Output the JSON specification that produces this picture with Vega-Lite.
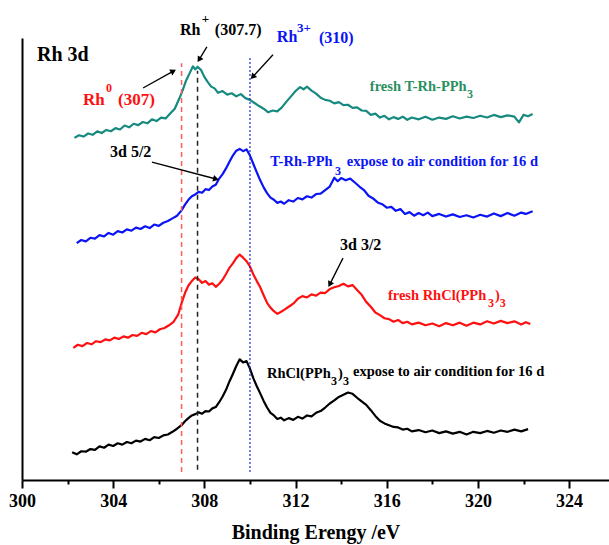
{
  "$schema": "https://vega.github.io/schema/vega-lite/v6.json",
  "width": 587,
  "height": 442,
  "autosize": "none",
  "padding": {"left": 22, "top": 38, "right": 0, "bottom": 65},
  "config": {"view": {"stroke": null}, "font": "Liberation Serif"},
  "datasets": {
    "spectra": [
      {"s":"t","x":302.3,"y":77.4},{"s":"t","x":302.5,"y":78.0},{"s":"t","x":302.7,"y":77.7},{"s":"t","x":302.9,"y":78.4},{"s":"t","x":303.1,"y":78.1},{"s":"t","x":303.3,"y":78.9},{"s":"t","x":303.5,"y":78.5},{"s":"t","x":303.7,"y":79.2},{"s":"t","x":303.9,"y":78.9},{"s":"t","x":304.1,"y":79.6},{"s":"t","x":304.3,"y":79.3},{"s":"t","x":304.5,"y":80.2},{"s":"t","x":304.7,"y":79.8},{"s":"t","x":304.9,"y":80.6},{"s":"t","x":305.1,"y":80.3},{"s":"t","x":305.3,"y":81.0},{"s":"t","x":305.5,"y":80.7},{"s":"t","x":305.7,"y":81.6},{"s":"t","x":305.9,"y":81.2},{"s":"t","x":306.1,"y":82.0},{"s":"t","x":306.3,"y":81.8},{"s":"t","x":306.5,"y":82.9},{"s":"t","x":306.7,"y":84.0},{"s":"t","x":306.9,"y":86.3},{"s":"t","x":307.05,"y":88.2},{"s":"t","x":307.2,"y":90.4},{"s":"t","x":307.35,"y":92.0},{"s":"t","x":307.5,"y":93.6},{"s":"t","x":307.6,"y":92.9},{"s":"t","x":307.7,"y":93.5},{"s":"t","x":307.85,"y":92.8},{"s":"t","x":308.0,"y":91.2},{"s":"t","x":308.15,"y":90.0},{"s":"t","x":308.3,"y":89.0},{"s":"t","x":308.45,"y":88.6},{"s":"t","x":308.6,"y":87.6},{"s":"t","x":308.8,"y":88.0},{"s":"t","x":309.0,"y":87.2},{"s":"t","x":309.2,"y":87.5},{"s":"t","x":309.4,"y":86.8},{"s":"t","x":309.6,"y":87.3},{"s":"t","x":309.8,"y":86.4},{"s":"t","x":310.0,"y":86.0},{"s":"t","x":310.2,"y":85.3},{"s":"t","x":310.4,"y":84.6},{"s":"t","x":310.6,"y":84.0},{"s":"t","x":310.8,"y":83.2},{"s":"t","x":311.0,"y":83.6},{"s":"t","x":311.2,"y":83.4},{"s":"t","x":311.4,"y":84.3},{"s":"t","x":311.6,"y":85.6},{"s":"t","x":311.8,"y":86.8},{"s":"t","x":312.0,"y":88.0},{"s":"t","x":312.2,"y":88.9},{"s":"t","x":312.35,"y":88.4},{"s":"t","x":312.5,"y":89.0},{"s":"t","x":312.7,"y":88.1},{"s":"t","x":312.9,"y":87.4},{"s":"t","x":313.1,"y":86.5},{"s":"t","x":313.3,"y":86.0},{"s":"t","x":313.5,"y":85.8},{"s":"t","x":313.7,"y":85.2},{"s":"t","x":313.9,"y":85.5},{"s":"t","x":314.1,"y":84.8},{"s":"t","x":314.3,"y":84.9},{"s":"t","x":314.5,"y":84.2},{"s":"t","x":314.7,"y":84.3},{"s":"t","x":314.9,"y":83.6},{"s":"t","x":315.1,"y":83.5},{"s":"t","x":315.3,"y":82.6},{"s":"t","x":315.5,"y":82.9},{"s":"t","x":315.7,"y":82.0},{"s":"t","x":315.9,"y":82.4},{"s":"t","x":316.1,"y":81.6},{"s":"t","x":316.3,"y":82.1},{"s":"t","x":316.5,"y":81.7},{"s":"t","x":316.7,"y":82.2},{"s":"t","x":316.9,"y":81.5},{"s":"t","x":317.1,"y":82.0},{"s":"t","x":317.4,"y":81.6},{"s":"t","x":317.7,"y":82.2},{"s":"t","x":318.0,"y":81.5},{"s":"t","x":318.3,"y":82.0},{"s":"t","x":318.6,"y":81.7},{"s":"t","x":318.9,"y":82.3},{"s":"t","x":319.2,"y":81.8},{"s":"t","x":319.5,"y":82.2},{"s":"t","x":319.8,"y":81.9},{"s":"t","x":320.1,"y":82.4},{"s":"t","x":320.4,"y":82.0},{"s":"t","x":320.7,"y":82.6},{"s":"t","x":321.0,"y":82.1},{"s":"t","x":321.3,"y":82.5},{"s":"t","x":321.6,"y":82.2},{"s":"t","x":321.8,"y":80.9},{"s":"t","x":322.0,"y":82.6},{"s":"t","x":322.2,"y":82.3},{"s":"t","x":322.4,"y":82.8},

      {"s":"b","x":302.4,"y":53.6},{"s":"b","x":302.6,"y":54.3},{"s":"b","x":302.8,"y":54.0},{"s":"b","x":303.0,"y":54.8},{"s":"b","x":303.2,"y":54.6},{"s":"b","x":303.4,"y":55.4},{"s":"b","x":303.6,"y":55.1},{"s":"b","x":303.8,"y":55.9},{"s":"b","x":304.0,"y":55.5},{"s":"b","x":304.2,"y":56.3},{"s":"b","x":304.4,"y":56.0},{"s":"b","x":304.6,"y":56.7},{"s":"b","x":304.8,"y":56.4},{"s":"b","x":305.0,"y":57.1},{"s":"b","x":305.2,"y":56.8},{"s":"b","x":305.4,"y":57.4},{"s":"b","x":305.6,"y":57.0},{"s":"b","x":305.8,"y":57.8},{"s":"b","x":306.0,"y":57.5},{"s":"b","x":306.2,"y":58.2},{"s":"b","x":306.4,"y":58.6},{"s":"b","x":306.6,"y":59.2},{"s":"b","x":306.8,"y":59.8},{"s":"b","x":307.0,"y":61.0},{"s":"b","x":307.15,"y":62.3},{"s":"b","x":307.3,"y":63.4},{"s":"b","x":307.45,"y":64.2},{"s":"b","x":307.6,"y":64.6},{"s":"b","x":307.75,"y":65.2},{"s":"b","x":307.9,"y":65.0},{"s":"b","x":308.05,"y":65.8},{"s":"b","x":308.2,"y":65.6},{"s":"b","x":308.35,"y":66.4},{"s":"b","x":308.5,"y":66.8},{"s":"b","x":308.65,"y":68.2},{"s":"b","x":308.8,"y":69.2},{"s":"b","x":308.95,"y":70.5},{"s":"b","x":309.1,"y":72.0},{"s":"b","x":309.25,"y":73.4},{"s":"b","x":309.4,"y":74.5},{"s":"b","x":309.55,"y":74.9},{"s":"b","x":309.7,"y":74.4},{"s":"b","x":309.85,"y":74.8},{"s":"b","x":310.0,"y":73.4},{"s":"b","x":310.15,"y":71.5},{"s":"b","x":310.3,"y":69.6},{"s":"b","x":310.45,"y":67.8},{"s":"b","x":310.6,"y":66.2},{"s":"b","x":310.75,"y":64.9},{"s":"b","x":310.9,"y":63.9},{"s":"b","x":311.05,"y":63.4},{"s":"b","x":311.2,"y":62.7},{"s":"b","x":311.35,"y":63.0},{"s":"b","x":311.5,"y":62.5},{"s":"b","x":311.7,"y":63.3},{"s":"b","x":311.9,"y":63.0},{"s":"b","x":312.1,"y":63.8},{"s":"b","x":312.3,"y":63.5},{"s":"b","x":312.5,"y":64.2},{"s":"b","x":312.7,"y":63.9},{"s":"b","x":312.9,"y":64.7},{"s":"b","x":313.1,"y":64.8},{"s":"b","x":313.3,"y":65.6},{"s":"b","x":313.5,"y":66.4},{"s":"b","x":313.7,"y":68.4},{"s":"b","x":313.85,"y":67.6},{"s":"b","x":314.0,"y":68.3},{"s":"b","x":314.2,"y":67.8},{"s":"b","x":314.4,"y":68.2},{"s":"b","x":314.6,"y":67.3},{"s":"b","x":314.8,"y":66.4},{"s":"b","x":315.0,"y":65.6},{"s":"b","x":315.2,"y":64.3},{"s":"b","x":315.4,"y":63.7},{"s":"b","x":315.6,"y":62.8},{"s":"b","x":315.8,"y":62.4},{"s":"b","x":316.0,"y":61.6},{"s":"b","x":316.2,"y":61.8},{"s":"b","x":316.4,"y":60.9},{"s":"b","x":316.6,"y":61.3},{"s":"b","x":316.8,"y":60.2},{"s":"b","x":317.0,"y":60.6},{"s":"b","x":317.2,"y":59.8},{"s":"b","x":317.4,"y":60.4},{"s":"b","x":317.6,"y":59.9},{"s":"b","x":317.8,"y":60.5},{"s":"b","x":318.0,"y":59.7},{"s":"b","x":318.3,"y":60.2},{"s":"b","x":318.6,"y":59.6},{"s":"b","x":318.9,"y":60.1},{"s":"b","x":319.2,"y":59.5},{"s":"b","x":319.5,"y":59.9},{"s":"b","x":319.8,"y":59.4},{"s":"b","x":320.1,"y":60.0},{"s":"b","x":320.4,"y":59.6},{"s":"b","x":320.7,"y":60.3},{"s":"b","x":321.0,"y":59.7},{"s":"b","x":321.3,"y":60.4},{"s":"b","x":321.6,"y":59.8},{"s":"b","x":321.9,"y":60.5},{"s":"b","x":322.1,"y":60.2},{"s":"b","x":322.4,"y":60.8},

      {"s":"r","x":302.25,"y":29.9},{"s":"r","x":302.45,"y":30.6},{"s":"r","x":302.65,"y":30.3},{"s":"r","x":302.85,"y":31.0},{"s":"r","x":303.05,"y":30.7},{"s":"r","x":303.25,"y":31.4},{"s":"r","x":303.45,"y":31.2},{"s":"r","x":303.65,"y":31.8},{"s":"r","x":303.85,"y":31.6},{"s":"r","x":304.05,"y":32.2},{"s":"r","x":304.25,"y":31.9},{"s":"r","x":304.45,"y":32.5},{"s":"r","x":304.65,"y":32.2},{"s":"r","x":304.85,"y":32.8},{"s":"r","x":305.05,"y":32.6},{"s":"r","x":305.25,"y":33.3},{"s":"r","x":305.45,"y":33.0},{"s":"r","x":305.65,"y":33.7},{"s":"r","x":305.85,"y":33.4},{"s":"r","x":306.05,"y":34.1},{"s":"r","x":306.25,"y":34.4},{"s":"r","x":306.45,"y":35.0},{"s":"r","x":306.65,"y":35.8},{"s":"r","x":306.85,"y":37.4},{"s":"r","x":307.0,"y":40.0},{"s":"r","x":307.15,"y":42.3},{"s":"r","x":307.3,"y":44.0},{"s":"r","x":307.45,"y":45.0},{"s":"r","x":307.6,"y":45.8},{"s":"r","x":307.75,"y":45.4},{"s":"r","x":307.9,"y":44.6},{"s":"r","x":308.05,"y":45.0},{"s":"r","x":308.2,"y":44.2},{"s":"r","x":308.35,"y":44.5},{"s":"r","x":308.5,"y":43.7},{"s":"r","x":308.65,"y":44.4},{"s":"r","x":308.8,"y":45.3},{"s":"r","x":308.95,"y":46.6},{"s":"r","x":309.1,"y":48.0},{"s":"r","x":309.25,"y":49.0},{"s":"r","x":309.4,"y":50.2},{"s":"r","x":309.55,"y":51.0},{"s":"r","x":309.7,"y":50.3},{"s":"r","x":309.85,"y":49.5},{"s":"r","x":310.0,"y":48.3},{"s":"r","x":310.15,"y":46.5},{"s":"r","x":310.3,"y":45.0},{"s":"r","x":310.45,"y":43.6},{"s":"r","x":310.6,"y":41.8},{"s":"r","x":310.75,"y":40.1},{"s":"r","x":310.9,"y":39.0},{"s":"r","x":311.05,"y":38.2},{"s":"r","x":311.2,"y":37.6},{"s":"r","x":311.35,"y":38.0},{"s":"r","x":311.5,"y":38.5},{"s":"r","x":311.7,"y":39.2},{"s":"r","x":311.9,"y":39.9},{"s":"r","x":312.1,"y":41.0},{"s":"r","x":312.3,"y":41.6},{"s":"r","x":312.5,"y":41.3},{"s":"r","x":312.7,"y":42.0},{"s":"r","x":312.9,"y":41.7},{"s":"r","x":313.1,"y":42.4},{"s":"r","x":313.3,"y":42.3},{"s":"r","x":313.5,"y":43.2},{"s":"r","x":313.7,"y":43.6},{"s":"r","x":313.9,"y":43.9},{"s":"r","x":314.1,"y":44.4},{"s":"r","x":314.3,"y":43.8},{"s":"r","x":314.5,"y":44.1},{"s":"r","x":314.7,"y":43.0},{"s":"r","x":314.9,"y":41.9},{"s":"r","x":315.1,"y":40.3},{"s":"r","x":315.3,"y":39.2},{"s":"r","x":315.5,"y":37.9},{"s":"r","x":315.7,"y":37.3},{"s":"r","x":315.9,"y":36.6},{"s":"r","x":316.1,"y":36.4},{"s":"r","x":316.3,"y":35.8},{"s":"r","x":316.5,"y":36.2},{"s":"r","x":316.7,"y":35.5},{"s":"r","x":316.9,"y":35.8},{"s":"r","x":317.1,"y":35.2},{"s":"r","x":317.4,"y":35.6},{"s":"r","x":317.7,"y":35.0},{"s":"r","x":318.0,"y":35.4},{"s":"r","x":318.3,"y":34.8},{"s":"r","x":318.6,"y":35.5},{"s":"r","x":318.9,"y":35.0},{"s":"r","x":319.2,"y":35.6},{"s":"r","x":319.5,"y":34.9},{"s":"r","x":319.8,"y":35.6},{"s":"r","x":320.1,"y":35.2},{"s":"r","x":320.4,"y":35.9},{"s":"r","x":320.7,"y":35.4},{"s":"r","x":321.0,"y":36.0},{"s":"r","x":321.3,"y":35.5},{"s":"r","x":321.6,"y":35.9},{"s":"r","x":321.9,"y":35.2},{"s":"r","x":322.1,"y":35.7},{"s":"r","x":322.3,"y":35.3},

      {"s":"k","x":302.2,"y":6.3},{"s":"k","x":302.4,"y":5.8},{"s":"k","x":302.6,"y":6.5},{"s":"k","x":302.8,"y":6.4},{"s":"k","x":303.0,"y":7.0},{"s":"k","x":303.2,"y":6.8},{"s":"k","x":303.4,"y":7.6},{"s":"k","x":303.6,"y":7.3},{"s":"k","x":303.8,"y":8.0},{"s":"k","x":304.0,"y":7.7},{"s":"k","x":304.2,"y":8.3},{"s":"k","x":304.4,"y":8.0},{"s":"k","x":304.6,"y":8.6},{"s":"k","x":304.8,"y":8.3},{"s":"k","x":305.0,"y":8.9},{"s":"k","x":305.2,"y":8.7},{"s":"k","x":305.4,"y":9.3},{"s":"k","x":305.6,"y":9.0},{"s":"k","x":305.8,"y":9.7},{"s":"k","x":306.0,"y":9.5},{"s":"k","x":306.2,"y":10.1},{"s":"k","x":306.4,"y":10.3},{"s":"k","x":306.6,"y":10.9},{"s":"k","x":306.8,"y":11.6},{"s":"k","x":307.0,"y":12.4},{"s":"k","x":307.15,"y":13.3},{"s":"k","x":307.3,"y":14.0},{"s":"k","x":307.45,"y":14.6},{"s":"k","x":307.6,"y":14.9},{"s":"k","x":307.75,"y":15.3},{"s":"k","x":307.9,"y":15.0},{"s":"k","x":308.05,"y":15.6},{"s":"k","x":308.2,"y":15.5},{"s":"k","x":308.35,"y":16.2},{"s":"k","x":308.5,"y":16.5},{"s":"k","x":308.65,"y":17.6},{"s":"k","x":308.8,"y":18.9},{"s":"k","x":308.95,"y":20.4},{"s":"k","x":309.1,"y":22.3},{"s":"k","x":309.25,"y":24.0},{"s":"k","x":309.4,"y":25.8},{"s":"k","x":309.55,"y":27.3},{"s":"k","x":309.7,"y":26.6},{"s":"k","x":309.85,"y":26.9},{"s":"k","x":310.0,"y":25.2},{"s":"k","x":310.15,"y":23.0},{"s":"k","x":310.3,"y":21.2},{"s":"k","x":310.45,"y":19.6},{"s":"k","x":310.6,"y":17.9},{"s":"k","x":310.75,"y":16.4},{"s":"k","x":310.9,"y":15.2},{"s":"k","x":311.05,"y":14.6},{"s":"k","x":311.2,"y":13.8},{"s":"k","x":311.35,"y":14.1},{"s":"k","x":311.5,"y":13.5},{"s":"k","x":311.7,"y":14.0},{"s":"k","x":311.9,"y":13.6},{"s":"k","x":312.1,"y":14.3},{"s":"k","x":312.3,"y":13.9},{"s":"k","x":312.5,"y":14.6},{"s":"k","x":312.7,"y":14.4},{"s":"k","x":312.9,"y":15.2},{"s":"k","x":313.1,"y":15.6},{"s":"k","x":313.3,"y":16.4},{"s":"k","x":313.5,"y":17.3},{"s":"k","x":313.7,"y":18.0},{"s":"k","x":313.9,"y":18.8},{"s":"k","x":314.1,"y":19.3},{"s":"k","x":314.3,"y":19.8},{"s":"k","x":314.5,"y":19.5},{"s":"k","x":314.7,"y":18.6},{"s":"k","x":314.9,"y":17.8},{"s":"k","x":315.1,"y":17.0},{"s":"k","x":315.3,"y":15.8},{"s":"k","x":315.5,"y":14.5},{"s":"k","x":315.7,"y":13.4},{"s":"k","x":315.9,"y":12.8},{"s":"k","x":316.1,"y":12.4},{"s":"k","x":316.3,"y":12.0},{"s":"k","x":316.5,"y":11.9},{"s":"k","x":316.7,"y":11.4},{"s":"k","x":316.9,"y":11.6},{"s":"k","x":317.1,"y":11.0},{"s":"k","x":317.4,"y":11.3},{"s":"k","x":317.7,"y":10.8},{"s":"k","x":318.0,"y":11.2},{"s":"k","x":318.3,"y":10.6},{"s":"k","x":318.6,"y":11.0},{"s":"k","x":318.9,"y":10.5},{"s":"k","x":319.2,"y":10.9},{"s":"k","x":319.5,"y":10.3},{"s":"k","x":319.8,"y":10.9},{"s":"k","x":320.1,"y":10.6},{"s":"k","x":320.4,"y":11.1},{"s":"k","x":320.7,"y":10.7},{"s":"k","x":321.0,"y":11.2},{"s":"k","x":321.3,"y":10.9},{"s":"k","x":321.6,"y":11.4},{"s":"k","x":321.9,"y":11.0},{"s":"k","x":322.2,"y":11.5}
    ],
    "vlines": [
      {"id":"r","x":307.0,"y":1.8,"y2":94.3},
      {"id":"k","x":307.7,"y":2.3,"y2":92.6},
      {"id":"b","x":310.0,"y":1.8,"y2":95.7}
    ],
    "labels": [
      {"t":"Rh 3d","x":300.66,"y":94.8,"c":"k","f":"h"},
      {"t":"Rh","x":302.68,"y":84.8,"c":"r","f":"a"},
      {"t":"0","x":303.68,"y":87.8,"c":"r","f":"s"},
      {"t":"(307)","x":304.21,"y":84.8,"c":"r","f":"a"},
      {"t":"Rh","x":306.93,"y":100.7,"c":"k","f":"b"},
      {"t":"+","x":307.89,"y":103.4,"c":"k","f":"p"},
      {"t":"(307.7)","x":308.46,"y":100.7,"c":"k","f":"b"},
      {"t":"Rh","x":311.18,"y":99.1,"c":"b","f":"b"},
      {"t":"3+","x":312.06,"y":101.4,"c":"b","f":"p"},
      {"t":"(310)","x":313.03,"y":98.9,"c":"b","f":"b"},
      {"t":"fresh T-Rh-PPh","x":315.26,"y":88.0,"c":"g","f":"m"},
      {"t":"3","x":319.52,"y":86.4,"c":"g","f":"s"},
      {"t":"3d 5/2","x":303.86,"y":73.1,"c":"k","f":"b"},
      {"t":"T-Rh-PPh","x":310.89,"y":71.0,"c":"b","f":"m"},
      {"t":"3","x":313.73,"y":69.0,"c":"b","f":"s"},
      {"t":"expose to air condition for 16 d","x":314.25,"y":71.0,"c":"b","f":"m"},
      {"t":"3d 3/2","x":313.95,"y":52.0,"c":"k","f":"b"},
      {"t":"fresh RhCl(PPh","x":316.05,"y":40.7,"c":"r","f":"m"},
      {"t":"3","x":320.44,"y":39.1,"c":"r","f":"s"},
      {"t":")","x":320.75,"y":40.7,"c":"r","f":"m"},
      {"t":"3","x":320.96,"y":39.1,"c":"r","f":"s"},
      {"t":"RhCl(PPh","x":310.75,"y":23.1,"c":"k","f":"m"},
      {"t":"3","x":313.55,"y":21.5,"c":"k","f":"s"},
      {"t":")","x":313.86,"y":23.1,"c":"k","f":"m"},
      {"t":"3","x":314.08,"y":21.5,"c":"k","f":"s"},
      {"t":"expose to air condition for 16 d","x":314.52,"y":23.5,"c":"k","f":"m"}
    ],
    "arrows": [
      {"id":1,"x":305.31,"y":88.7,"x2":306.64,"y2":92.5},
      {"id":2,"x":308.11,"y":98.0,"x2":307.77,"y2":95.1},
      {"id":3,"x":311.01,"y":96.2,"x2":310.12,"y2":91.2},
      {"id":4,"x":305.70,"y":71.9,"x2":308.51,"y2":68.1},
      {"id":5,"x":314.08,"y":50.2,"x2":313.5,"y2":44.25}
    ]
  },
  "layer": [
    {
      "data": {"name": "spectra"},
      "mark": {"type": "line", "strokeWidth": 2.2, "strokeJoin": "round"},
      "encoding": {
        "x": {
          "field": "x", "type": "quantitative", "title": "Binding Erengy /eV",
          "scale": {"domain": [300, 325.75], "nice": false, "zero": false},
          "axis": {
            "titleFont": "Liberation Serif", "titleFontWeight": "bold", "titleFontSize": 20, "titleColor": "#000000", "titlePadding": 12,
            "values": [300, 302, 304, 306, 308, 310, 312, 314, 316, 318, 320, 322, 324],
            "labelExpr": "datum.value % 4 === 0 ? datum.label : ''",
            "labelFont": "Liberation Serif", "labelFontWeight": "bold", "labelFontSize": 18, "labelColor": "#000000",
            "labelPadding": 4, "labelFlush": false, "labelOverlap": false,
            "tickSize": {"condition": {"test": "datum.value % 4 === 0", "value": 8}, "value": 4},
            "tickWidth": 2, "tickColor": "#000000",
            "domainWidth": 2, "domainColor": "#000000", "grid": false
          }
        },
        "y": {
          "field": "y", "type": "quantitative", "title": null,
          "scale": {"domain": [0, 100], "nice": false, "zero": false},
          "axis": {"ticks": false, "labels": false, "grid": false, "domainWidth": 2, "domainColor": "#000000"}
        },
        "color": {
          "field": "s", "type": "nominal", "legend": null,
          "scale": {"domain": ["t", "b", "r", "k", "g"], "range": ["#178a80", "#0a14f5", "#ff1010", "#000000", "#2a8f60"]}
        }
      }
    },
    {
      "data": {"name": "vlines"},
      "transform": [{"filter": "datum.id === 'r'"}],
      "mark": {"type": "rule", "color": "#ff5c5c", "strokeWidth": 1.5, "strokeDash": [5, 4]},
      "encoding": {
        "x": {"field": "x", "type": "quantitative", "title": "Binding Erengy /eV"},
        "y": {"field": "y", "type": "quantitative", "title": null},
        "y2": {"field": "y2"}
      }
    },
    {
      "data": {"name": "vlines"},
      "transform": [{"filter": "datum.id === 'k'"}],
      "mark": {"type": "rule", "color": "#222222", "strokeWidth": 1.5, "strokeDash": [5, 4]},
      "encoding": {
        "x": {"field": "x", "type": "quantitative", "title": "Binding Erengy /eV"},
        "y": {"field": "y", "type": "quantitative", "title": null},
        "y2": {"field": "y2"}
      }
    },
    {
      "data": {"name": "vlines"},
      "transform": [{"filter": "datum.id === 'b'"}],
      "mark": {"type": "rule", "color": "#1c2ae0", "strokeWidth": 1.2, "strokeDash": [2, 2]},
      "encoding": {
        "x": {"field": "x", "type": "quantitative", "title": "Binding Erengy /eV"},
        "y": {"field": "y", "type": "quantitative", "title": null},
        "y2": {"field": "y2"}
      }
    },
    {
      "data": {"name": "arrows"},
      "mark": {"type": "rule", "color": "#000000", "strokeWidth": 1.3},
      "encoding": {
        "x": {"field": "x", "type": "quantitative", "title": "Binding Erengy /eV"},
        "y": {"field": "y", "type": "quantitative", "title": null},
        "x2": {"field": "x2"},
        "y2": {"field": "y2"}
      }
    },
    {
      "data": {"name": "arrows"},
      "transform": [{"filter": "datum.id === 1"}],
      "mark": {"type": "point", "shape": "triangle-up", "filled": true, "color": "#000000", "size": 45, "angle": 61, "opacity": 1},
      "encoding": {"x": {"field": "x2", "type": "quantitative", "title": "Binding Erengy /eV"}, "y": {"field": "y2", "type": "quantitative", "title": null}}
    },
    {
      "data": {"name": "arrows"},
      "transform": [{"filter": "datum.id === 2"}],
      "mark": {"type": "point", "shape": "triangle-up", "filled": true, "color": "#000000", "size": 45, "angle": 212, "opacity": 1},
      "encoding": {"x": {"field": "x2", "type": "quantitative", "title": "Binding Erengy /eV"}, "y": {"field": "y2", "type": "quantitative", "title": null}}
    },
    {
      "data": {"name": "arrows"},
      "transform": [{"filter": "datum.id === 3"}],
      "mark": {"type": "point", "shape": "triangle-up", "filled": true, "color": "#000000", "size": 45, "angle": 223, "opacity": 1},
      "encoding": {"x": {"field": "x2", "type": "quantitative", "title": "Binding Erengy /eV"}, "y": {"field": "y2", "type": "quantitative", "title": null}}
    },
    {
      "data": {"name": "arrows"},
      "transform": [{"filter": "datum.id === 4"}],
      "mark": {"type": "point", "shape": "triangle-up", "filled": true, "color": "#000000", "size": 45, "angle": 105, "opacity": 1},
      "encoding": {"x": {"field": "x2", "type": "quantitative", "title": "Binding Erengy /eV"}, "y": {"field": "y2", "type": "quantitative", "title": null}}
    },
    {
      "data": {"name": "arrows"},
      "transform": [{"filter": "datum.id === 5"}],
      "mark": {"type": "point", "shape": "triangle-up", "filled": true, "color": "#000000", "size": 45, "angle": 207, "opacity": 1},
      "encoding": {"x": {"field": "x2", "type": "quantitative", "title": "Binding Erengy /eV"}, "y": {"field": "y2", "type": "quantitative", "title": null}}
    },
    {
      "data": {"name": "labels"},
      "transform": [{"filter": "datum.f === 'h'"}],
      "mark": {"type": "text", "align": "left", "baseline": "alphabetic", "font": "Liberation Serif", "fontWeight": "bold", "fontSize": 20},
      "encoding": {
        "x": {"field": "x", "type": "quantitative", "title": "Binding Erengy /eV"},
        "y": {"field": "y", "type": "quantitative", "title": null},
        "text": {"field": "t"},
        "color": {"field": "c", "type": "nominal", "legend": null, "scale": {"domain": ["t", "b", "r", "k", "g"], "range": ["#178a80", "#0a14f5", "#ff1010", "#000000", "#2a8f60"]}}
      }
    },
    {
      "data": {"name": "labels"},
      "transform": [{"filter": "datum.f === 'a'"}],
      "mark": {"type": "text", "align": "left", "baseline": "alphabetic", "font": "Liberation Serif", "fontWeight": "bold", "fontSize": 17},
      "encoding": {
        "x": {"field": "x", "type": "quantitative", "title": "Binding Erengy /eV"},
        "y": {"field": "y", "type": "quantitative", "title": null},
        "text": {"field": "t"},
        "color": {"field": "c", "type": "nominal", "legend": null, "scale": {"domain": ["t", "b", "r", "k", "g"], "range": ["#178a80", "#0a14f5", "#ff1010", "#000000", "#2a8f60"]}}
      }
    },
    {
      "data": {"name": "labels"},
      "transform": [{"filter": "datum.f === 'b'"}],
      "mark": {"type": "text", "align": "left", "baseline": "alphabetic", "font": "Liberation Serif", "fontWeight": "bold", "fontSize": 16},
      "encoding": {
        "x": {"field": "x", "type": "quantitative", "title": "Binding Erengy /eV"},
        "y": {"field": "y", "type": "quantitative", "title": null},
        "text": {"field": "t"},
        "color": {"field": "c", "type": "nominal", "legend": null, "scale": {"domain": ["t", "b", "r", "k", "g"], "range": ["#178a80", "#0a14f5", "#ff1010", "#000000", "#2a8f60"]}}
      }
    },
    {
      "data": {"name": "labels"},
      "transform": [{"filter": "datum.f === 'm'"}],
      "mark": {"type": "text", "align": "left", "baseline": "alphabetic", "font": "Liberation Serif", "fontWeight": "bold", "fontSize": 14.5},
      "encoding": {
        "x": {"field": "x", "type": "quantitative", "title": "Binding Erengy /eV"},
        "y": {"field": "y", "type": "quantitative", "title": null},
        "text": {"field": "t"},
        "color": {"field": "c", "type": "nominal", "legend": null, "scale": {"domain": ["t", "b", "r", "k", "g"], "range": ["#178a80", "#0a14f5", "#ff1010", "#000000", "#2a8f60"]}}
      }
    },
    {
      "data": {"name": "labels"},
      "transform": [{"filter": "datum.f === 's'"}],
      "mark": {"type": "text", "align": "left", "baseline": "alphabetic", "font": "Liberation Serif", "fontWeight": "bold", "fontSize": 12},
      "encoding": {
        "x": {"field": "x", "type": "quantitative", "title": "Binding Erengy /eV"},
        "y": {"field": "y", "type": "quantitative", "title": null},
        "text": {"field": "t"},
        "color": {"field": "c", "type": "nominal", "legend": null, "scale": {"domain": ["t", "b", "r", "k", "g"], "range": ["#178a80", "#0a14f5", "#ff1010", "#000000", "#2a8f60"]}}
      }
    },
    {
      "data": {"name": "labels"},
      "transform": [{"filter": "datum.f === 'p'"}],
      "mark": {"type": "text", "align": "left", "baseline": "alphabetic", "font": "Liberation Serif", "fontWeight": "bold", "fontSize": 13},
      "encoding": {
        "x": {"field": "x", "type": "quantitative", "title": "Binding Erengy /eV"},
        "y": {"field": "y", "type": "quantitative", "title": null},
        "text": {"field": "t"},
        "color": {"field": "c", "type": "nominal", "legend": null, "scale": {"domain": ["t", "b", "r", "k", "g"], "range": ["#178a80", "#0a14f5", "#ff1010", "#000000", "#2a8f60"]}}
      }
    }
  ]
}
